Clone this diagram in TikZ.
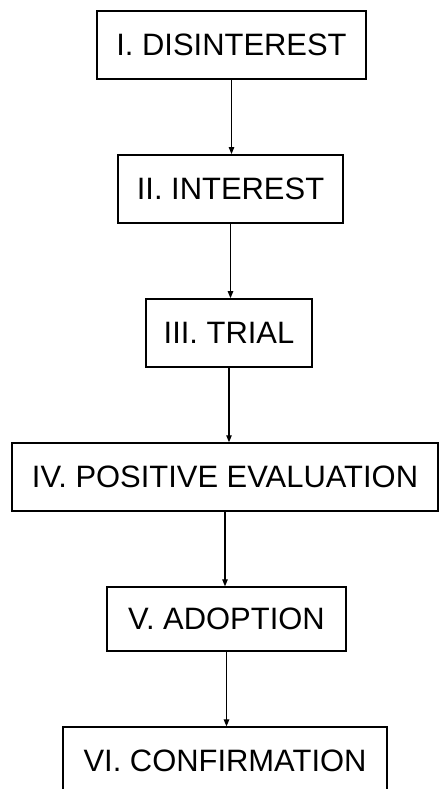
\documentclass[tikz,border=0pt]{standalone}
\usepackage{fontspec}
\setmainfont{Liberation Sans}
\usetikzlibrary{arrows.meta, positioning}
\tikzset{
  adopt/.style={
    font=\fontsize{17.6}{21}\selectfont,
    >={Triangle[length=1.4mm, width=1.1mm]},
    node distance=14.9mm,
  },
  stagebox/.style={
    draw=black, line width=0.9pt, fill=white,
    minimum height=13.6mm, inner sep=0pt, align=center,
  },
  flow/.style={->, draw=black, line width=0.6pt},
}

\begin{document}
\begin{tikzpicture}[adopt]
  \useasboundingbox (0,0) rectangle (87.8mm,-157.8mm);

  \node[stagebox, minimum width=53.8mm, anchor=north] (disint) at (46.3mm,-2mm) {I. DISINTEREST};
  \node[stagebox, minimum width=45mm, below=of disint, xshift=-0.2mm] (interest) {II. INTEREST};
  \node[stagebox, minimum width=33.2mm, below=of interest, xshift=-0.3mm] (trial) {III. TRIAL};
  \node[stagebox, minimum width=85.2mm, below=of trial, xshift=-0.8mm] (evaluation) {IV. POSITIVE EVALUATION};
  \node[stagebox, minimum width=47.8mm, minimum height=12.8mm, below=of evaluation, xshift=0.3mm] (adoption) {V. ADOPTION};
  \node[stagebox, minimum width=64.8mm, below=of adoption, xshift=-0.3mm] (confirm) {VI. CONFIRMATION};

  \draw[flow] (disint.south) -- (disint.south |- interest.north);
  \draw[flow] (interest.south) -- (interest.south |- trial.north);
  \draw[flow] (trial.south) -- (trial.south |- evaluation.north);
  \draw[flow] (evaluation.south) -- (evaluation.south |- adoption.north);
  \draw[flow] (adoption.south) -- (adoption.south |- confirm.north);
\end{tikzpicture}
\end{document}
